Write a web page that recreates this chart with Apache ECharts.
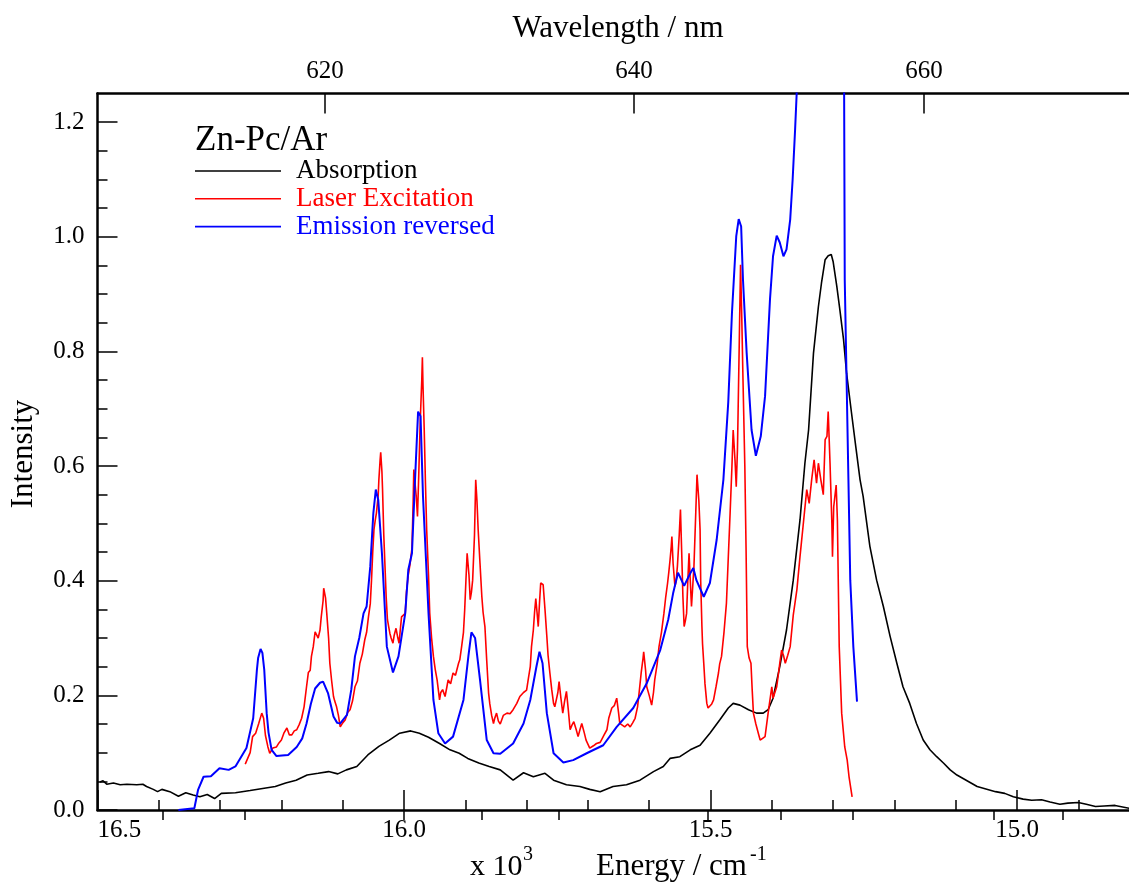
<!DOCTYPE html>
<html>
<head>
<meta charset="utf-8">
<script src="https://cdn.jsdelivr.net/npm/echarts@6/dist/echarts.min.js"></script>
<style>
html, body { margin: 0; padding: 0; background: #ffffff; }
#chart { width: 1129px; height: 882px; }
</style>
</head>
<body>
<div id="chart"></div>
<script>
// Zn-Pc isolated in solid argon: absorption, laser excitation and reversed emission.
// Energy in units of 10^3 cm^-1, intensity in arbitrary units.

const absorption = [
  [16.496,0.049],[16.491,0.051],[16.485,0.045],[16.474,0.047],[16.463,0.044],[16.452,0.045],
  [16.436,0.044],[16.426,0.045],[16.420,0.041],[16.409,0.036],[16.402,0.032],[16.395,0.036],
  [16.382,0.032],[16.368,0.024],[16.356,0.030],[16.344,0.026],[16.333,0.023],[16.321,0.027],
  [16.309,0.020],[16.298,0.029],[16.275,0.030],[16.251,0.034],[16.228,0.038],[16.210,0.041],
  [16.193,0.047],[16.176,0.052],[16.158,0.061],[16.140,0.064],[16.123,0.067],[16.108,0.063],
  [16.094,0.070],[16.077,0.076],[16.059,0.096],[16.041,0.111],[16.024,0.122],[16.007,0.134],
  [15.989,0.138],[15.975,0.134],[15.960,0.127],[15.942,0.116],[15.925,0.105],[15.910,0.099],
  [15.896,0.090],[15.878,0.082],[15.861,0.076],[15.843,0.070],[15.822,0.052],[15.805,0.065],
  [15.789,0.058],[15.770,0.064],[15.756,0.052],[15.735,0.044],[15.713,0.041],[15.697,0.036],
  [15.680,0.032],[15.659,0.041],[15.637,0.044],[15.615,0.052],[15.593,0.067],[15.577,0.076],
  [15.566,0.090],[15.550,0.093],[15.533,0.105],[15.517,0.113],[15.501,0.134],[15.485,0.157],
  [15.471,0.178],[15.463,0.186],[15.452,0.183],[15.438,0.175],[15.425,0.169],[15.414,0.169],
  [15.406,0.175],[15.398,0.195],[15.387,0.250],[15.376,0.314],[15.365,0.401],[15.354,0.506],
  [15.346,0.605],[15.340,0.663],[15.332,0.797],[15.324,0.878],[15.319,0.919],[15.313,0.960],
  [15.308,0.967],[15.303,0.969],[15.300,0.957],[15.294,0.914],[15.289,0.873],[15.283,0.821],
  [15.278,0.762],[15.270,0.693],[15.263,0.634],[15.256,0.576],[15.251,0.547],[15.240,0.460],
  [15.229,0.401],[15.218,0.355],[15.207,0.303],[15.196,0.256],[15.186,0.215],[15.175,0.186],
  [15.164,0.151],[15.153,0.122],[15.142,0.105],[15.131,0.093],[15.120,0.082],[15.109,0.070],
  [15.098,0.061],[15.065,0.041],[15.035,0.032],[15.020,0.029],[15.006,0.023],[14.990,0.019],
  [14.976,0.017],[14.960,0.018],[14.946,0.014],[14.930,0.010],[14.917,0.012],[14.900,0.013],
  [14.887,0.010],[14.872,0.006],[14.858,0.007],[14.840,0.008],[14.817,0.003]
];

const laserExcitation = [
  [16.259,0.080],[16.251,0.100],[16.247,0.128],[16.242,0.134],[16.237,0.151],[16.232,0.169],
  [16.229,0.160],[16.226,0.130],[16.222,0.110],[16.219,0.099],[16.214,0.108],[16.208,0.110],
  [16.204,0.117],[16.200,0.122],[16.196,0.134],[16.191,0.143],[16.187,0.131],[16.183,0.131],
  [16.179,0.138],[16.175,0.140],[16.171,0.149],[16.167,0.160],[16.163,0.180],[16.159,0.215],
  [16.156,0.240],[16.153,0.244],[16.151,0.268],[16.148,0.285],[16.145,0.311],[16.142,0.308],
  [16.140,0.300],[16.137,0.314],[16.135,0.337],[16.132,0.365],[16.131,0.387],[16.128,0.370],
  [16.126,0.343],[16.123,0.300],[16.121,0.256],[16.118,0.225],[16.115,0.198],[16.113,0.190],
  [16.110,0.180],[16.107,0.165],[16.104,0.145],[16.100,0.152],[16.096,0.157],[16.092,0.170],
  [16.088,0.175],[16.084,0.190],[16.080,0.215],[16.076,0.225],[16.072,0.256],[16.068,0.272],
  [16.064,0.297],[16.061,0.310],[16.058,0.337],[16.055,0.360],[16.053,0.401],[16.051,0.450],
  [16.049,0.489],[16.047,0.505],[16.045,0.518],[16.042,0.550],[16.041,0.576],[16.039,0.610],
  [16.038,0.624],[16.036,0.590],[16.035,0.559],[16.033,0.480],[16.031,0.425],[16.029,0.370],
  [16.027,0.332],[16.025,0.320],[16.023,0.308],[16.021,0.300],[16.018,0.291],[16.016,0.305],
  [16.013,0.317],[16.010,0.300],[16.008,0.291],[16.006,0.315],[16.004,0.337],[16.001,0.335],
  [15.998,0.343],[15.996,0.380],[15.993,0.410],[15.990,0.430],[15.987,0.457],[15.985,0.540],
  [15.984,0.594],[15.982,0.570],[15.980,0.547],[15.978,0.512],[15.976,0.582],[15.974,0.660],
  [15.973,0.693],[15.971,0.750],[15.970,0.790],[15.969,0.740],[15.967,0.663],[15.965,0.570],
  [15.963,0.489],[15.960,0.410],[15.958,0.343],[15.955,0.300],[15.952,0.268],[15.949,0.245],
  [15.946,0.227],[15.942,0.192],[15.940,0.205],[15.937,0.210],[15.933,0.198],[15.930,0.215],
  [15.928,0.227],[15.924,0.220],[15.920,0.239],[15.916,0.235],[15.911,0.256],[15.909,0.262],
  [15.906,0.285],[15.903,0.310],[15.901,0.349],[15.899,0.400],[15.897,0.448],[15.894,0.410],
  [15.892,0.367],[15.890,0.380],[15.888,0.401],[15.885,0.480],[15.883,0.576],[15.881,0.540],
  [15.879,0.489],[15.876,0.430],[15.873,0.372],[15.871,0.345],[15.868,0.320],[15.865,0.260],
  [15.862,0.204],[15.860,0.185],[15.857,0.165],[15.854,0.151],[15.852,0.160],[15.849,0.169],
  [15.846,0.155],[15.843,0.150],[15.838,0.165],[15.832,0.169],[15.827,0.168],[15.822,0.175],
  [15.816,0.186],[15.811,0.198],[15.805,0.205],[15.800,0.209],[15.797,0.230],[15.794,0.250],
  [15.792,0.285],[15.789,0.314],[15.787,0.345],[15.785,0.369],[15.783,0.345],[15.781,0.320],
  [15.779,0.360],[15.777,0.396],[15.775,0.398],[15.773,0.393],[15.770,0.350],[15.767,0.303],
  [15.765,0.270],[15.762,0.239],[15.759,0.210],[15.756,0.186],[15.754,0.180],[15.751,0.180],
  [15.749,0.205],[15.747,0.224],[15.744,0.195],[15.741,0.169],[15.738,0.190],[15.735,0.207],
  [15.732,0.175],[15.729,0.140],[15.726,0.148],[15.723,0.154],[15.719,0.140],[15.716,0.128],
  [15.713,0.140],[15.710,0.151],[15.706,0.135],[15.703,0.122],[15.700,0.115],[15.697,0.108],
  [15.691,0.112],[15.686,0.116],[15.680,0.118],[15.678,0.122],[15.674,0.130],[15.669,0.140],
  [15.666,0.160],[15.661,0.178],[15.657,0.182],[15.653,0.195],[15.650,0.170],[15.648,0.151],
  [15.644,0.148],[15.640,0.145],[15.635,0.150],[15.631,0.145],[15.627,0.152],[15.623,0.160],
  [15.619,0.180],[15.616,0.209],[15.613,0.240],[15.610,0.265],[15.609,0.276],[15.606,0.245],
  [15.604,0.215],[15.600,0.200],[15.596,0.183],[15.593,0.205],[15.591,0.227],[15.587,0.255],
  [15.584,0.285],[15.580,0.310],[15.576,0.343],[15.573,0.372],[15.570,0.396],[15.568,0.415],
  [15.566,0.436],[15.564,0.460],[15.563,0.477],[15.561,0.430],[15.558,0.390],[15.556,0.400],
  [15.554,0.425],[15.551,0.480],[15.549,0.524],[15.547,0.450],[15.545,0.372],[15.543,0.320],
  [15.541,0.330],[15.539,0.343],[15.537,0.400],[15.535,0.448],[15.533,0.400],[15.531,0.355],
  [15.529,0.390],[15.527,0.425],[15.524,0.520],[15.522,0.585],[15.519,0.540],[15.517,0.489],
  [15.516,0.400],[15.514,0.320],[15.513,0.290],[15.511,0.256],[15.509,0.220],[15.506,0.186],
  [15.504,0.178],[15.501,0.175],[15.498,0.185],[15.495,0.192],[15.491,0.215],[15.487,0.239],
  [15.485,0.255],[15.482,0.268],[15.478,0.310],[15.474,0.361],[15.471,0.440],[15.468,0.518],
  [15.465,0.600],[15.463,0.663],[15.460,0.610],[15.458,0.564],[15.456,0.630],[15.455,0.693],
  [15.453,0.820],[15.451,0.951],[15.449,0.860],[15.447,0.751],[15.444,0.600],[15.442,0.457],
  [15.440,0.285],[15.437,0.265],[15.434,0.256],[15.432,0.210],[15.430,0.169],[15.426,0.150],
  [15.422,0.134],[15.419,0.122],[15.416,0.119],[15.411,0.128],[15.406,0.169],[15.400,0.215],
  [15.398,0.195],[15.395,0.192],[15.392,0.215],[15.389,0.239],[15.387,0.256],[15.384,0.279],
  [15.381,0.270],[15.378,0.256],[15.374,0.270],[15.370,0.285],[15.365,0.340],[15.359,0.385],
  [15.354,0.442],[15.349,0.495],[15.343,0.559],[15.339,0.535],[15.335,0.576],[15.331,0.611],
  [15.327,0.570],[15.324,0.605],[15.320,0.576],[15.316,0.550],[15.313,0.646],[15.310,0.652],
  [15.308,0.695],[15.305,0.605],[15.302,0.500],[15.301,0.442],[15.299,0.529],[15.295,0.567],
  [15.293,0.506],[15.290,0.285],[15.286,0.169],[15.281,0.110],[15.277,0.087],[15.274,0.058],
  [15.269,0.023]
];

const emissionReversed = [
  [16.368,0.000],[16.342,0.003],[16.336,0.035],[16.327,0.058],[16.315,0.059],[16.301,0.073],
  [16.286,0.070],[16.275,0.076],[16.257,0.108],[16.246,0.160],[16.240,0.244],[16.238,0.265],
  [16.234,0.281],[16.231,0.274],[16.228,0.245],[16.224,0.169],[16.221,0.135],[16.216,0.105],
  [16.208,0.094],[16.199,0.095],[16.189,0.096],[16.175,0.110],[16.166,0.125],[16.159,0.151],
  [16.152,0.185],[16.145,0.212],[16.137,0.222],[16.132,0.224],[16.124,0.204],[16.115,0.163],
  [16.109,0.152],[16.104,0.151],[16.093,0.166],[16.086,0.210],[16.080,0.268],[16.073,0.300],
  [16.066,0.343],[16.061,0.355],[16.055,0.425],[16.050,0.518],[16.046,0.559],[16.042,0.541],
  [16.036,0.448],[16.028,0.285],[16.018,0.240],[16.009,0.268],[15.998,0.343],[15.993,0.419],
  [15.987,0.448],[15.982,0.576],[15.977,0.695],[15.973,0.687],[15.969,0.547],[15.960,0.343],
  [15.952,0.192],[15.944,0.134],[15.933,0.116],[15.920,0.128],[15.903,0.192],[15.895,0.268],
  [15.890,0.310],[15.884,0.300],[15.876,0.227],[15.865,0.122],[15.854,0.099],[15.843,0.098],
  [15.822,0.116],[15.805,0.151],[15.794,0.192],[15.784,0.250],[15.779,0.276],[15.774,0.256],
  [15.767,0.169],[15.756,0.099],[15.740,0.083],[15.724,0.087],[15.702,0.099],[15.675,0.113],
  [15.653,0.145],[15.626,0.178],[15.604,0.221],[15.582,0.279],[15.569,0.332],[15.561,0.378],
  [15.553,0.414],[15.543,0.391],[15.533,0.413],[15.528,0.422],[15.523,0.401],[15.511,0.372],
  [15.501,0.396],[15.490,0.471],[15.479,0.576],[15.471,0.712],[15.465,0.867],[15.458,1.001],
  [15.454,1.031],[15.450,1.018],[15.447,0.925],[15.441,0.797],[15.433,0.663],[15.426,0.618],
  [15.418,0.652],[15.411,0.722],[15.403,0.890],[15.398,0.966],[15.392,1.002],[15.387,0.990],
  [15.381,0.966],[15.376,0.978],[15.370,1.030],[15.366,1.100],[15.362,1.187],[15.359,1.260],
  [15.346,1.500],[15.330,1.800],[15.313,2.000],[15.297,2.100],[15.289,2.000],[15.282,1.250],
  [15.281,0.925],[15.278,0.751],[15.275,0.576],[15.272,0.401],[15.267,0.285],[15.261,0.189]
];

const seriesNames = ['Absorption', 'Laser Excitation', 'Emission reversed'];
const seriesColors = ['#000000', '#ff0000', '#0000ff'];
const sampleLabel = 'Zn-Pc/Ar';

// Axis ticks
const wavelengthMajor = [620, 640, 660];                                   // nm, labelled
const wavelengthMinor = [610, 615, 625, 630, 635, 645, 650, 655, 665, 670, 675];
const intensityMajor = [0, 0.2, 0.4, 0.6, 0.8, 1.0, 1.2];
const intensityMinor = [0.05, 0.1, 0.15, 0.25, 0.3, 0.35, 0.45, 0.5, 0.55, 0.65, 0.7,
                        0.75, 0.85, 0.9, 0.95, 1.05, 1.1, 1.15];

const FONT = '"Liberation Serif", "Times New Roman", Times, serif';
const nmToEnergy = nm => 1e4 / nm;   // 10^3 cm^-1

const chart = echarts.init(document.getElementById('chart'), null, { renderer: 'canvas' });

const tickLine = { color: '#000', width: 1.5 };
const labelStyle = { color: '#000', fontFamily: FONT, fontSize: 25 };

const option = {
  animation: false,
  backgroundColor: '#ffffff',
  // the energy scale runs on past the right edge of the page
  grid: { left: 97.5, top: 93.5, width: 1226, height: 716.5,
          containLabel: false, outerBoundsMode: 'none' },
  xAxis: [
    {
      type: 'value', position: 'bottom', min: 14.5, max: 16.5, inverse: true, interval: 0.5,
      axisLine: { show: true, onZero: false, lineStyle: { color: '#000', width: 2.5 } },
      axisTick: { show: true, inside: true, length: 20, lineStyle: tickLine },
      minorTick: { show: true, splitNumber: 5, length: 10, lineStyle: tickLine },
      splitLine: { show: false }, minorSplitLine: { show: false },
      axisLabel: Object.assign({}, labelStyle, {
        margin: 8, alignMaxLabel: 'left',
        formatter: v => v.toFixed(1)
      })
    },
    {
      type: 'value', position: 'top', min: 14.5, max: 16.5, inverse: true,
      axisLine: { show: true, onZero: false, lineStyle: { color: '#000', width: 2.5 } },
      axisTick: { show: true, inside: true, length: 20, lineStyle: tickLine,
                  customValues: wavelengthMajor.map(nmToEnergy) },
      splitLine: { show: false },
      axisLabel: Object.assign({}, labelStyle, {
        margin: 10,
        customValues: wavelengthMajor.map(nmToEnergy),
        formatter: v => String(Math.round(1e4 / v))
      })
    },
    {
      type: 'value', position: 'top', min: 14.5, max: 16.5, inverse: true,
      axisLine: { show: false },
      axisTick: { show: true, inside: true, length: 10, lineStyle: tickLine,
                  customValues: wavelengthMinor.map(nmToEnergy) },
      splitLine: { show: false },
      axisLabel: { show: false }
    }
  ],
  yAxis: [
    {
      type: 'value', position: 'left', min: 0, max: 1.25,
      axisLine: { show: true, onZero: false, lineStyle: { color: '#000', width: 2.5 } },
      axisTick: { show: true, inside: true, length: 20, lineStyle: tickLine,
                  customValues: intensityMajor },
      splitLine: { show: false },
      axisLabel: Object.assign({}, labelStyle, {
        margin: 13,
        customValues: intensityMajor,
        formatter: v => v.toFixed(1)
      })
    },
    {
      type: 'value', position: 'left', min: 0, max: 1.25,
      axisLine: { show: false },
      axisTick: { show: true, inside: true, length: 10, lineStyle: tickLine,
                  customValues: intensityMinor },
      splitLine: { show: false },
      axisLabel: { show: false }
    }
  ],
  series: [absorption, laserExcitation, emissionReversed].map((data, i) => ({
    name: seriesNames[i],
    type: 'line',
    xAxisIndex: 0,
    yAxisIndex: 0,
    data: data,
    showSymbol: false,
    symbol: 'none',
    clip: true,
    z: 2 + i,
    lineStyle: { color: seriesColors[i], width: i === 2 ? 2 : 1.6 },
    emphasis: { disabled: true }
  })),
  graphic: [
    // axis titles
    { type: 'text', x: 618, y: 28.5, style: { text: 'Wavelength / nm', font: '31px ' + FONT,
      fill: '#000', textAlign: 'center', textVerticalAlign: 'middle' } },
    { type: 'text', x: 24, y: 454, rotation: Math.PI / 2, style: { text: 'Intensity',
      font: '31px ' + FONT, fill: '#000', textAlign: 'center', textVerticalAlign: 'middle' } },
    { type: 'text', x: 470, y: 867, style: { text: 'x 10', font: '30px ' + FONT,
      fill: '#000', textAlign: 'left', textVerticalAlign: 'middle' } },
    { type: 'text', x: 523, y: 855, style: { text: '3', font: '20px ' + FONT,
      fill: '#000', textAlign: 'left', textVerticalAlign: 'middle' } },
    { type: 'text', x: 596, y: 867, style: { text: 'Energy / cm', font: '31px ' + FONT,
      fill: '#000', textAlign: 'left', textVerticalAlign: 'middle' } },
    { type: 'text', x: 750, y: 855, style: { text: '-1', font: '20px ' + FONT,
      fill: '#000', textAlign: 'left', textVerticalAlign: 'middle' } },
    // key
    { type: 'text', x: 195, y: 141, style: { text: sampleLabel, font: '35px ' + FONT,
      fill: '#000', textAlign: 'left', textVerticalAlign: 'middle' } }
  ].concat(seriesNames.flatMap((name, i) => [
    { type: 'line', shape: { x1: 195, y1: 171 + i * 27.8, x2: 281, y2: 171 + i * 27.8 },
      style: { stroke: seriesColors[i], lineWidth: 1.6 } },
    { type: 'text', x: 296, y: 171 + i * 27.8, style: { text: name, font: '27px ' + FONT,
      fill: seriesColors[i], textAlign: 'left', textVerticalAlign: 'middle' } }
  ]))
};

chart.setOption(option);
</script>
</body>
</html>
